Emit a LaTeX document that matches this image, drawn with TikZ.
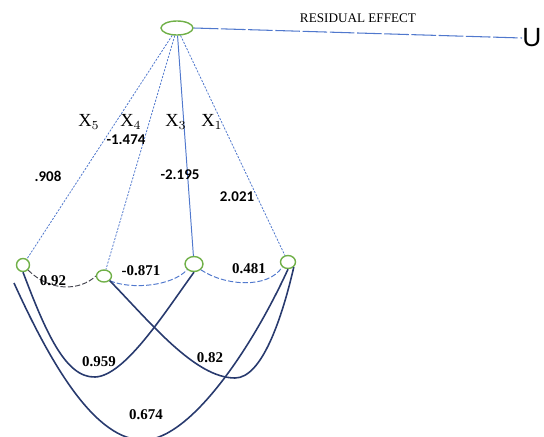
\documentclass[tikz,border=0pt]{standalone}
\usepackage{fontspec}
\setmainfont{Liberation Serif}
\newfontfamily\numfont{Carlito}
\newfontfamily\ufont{Liberation Sans}
\usetikzlibrary{shapes.geometric}
\definecolor{linkblue}{RGB}{80,120,205}
\definecolor{navy}{RGB}{40,58,110}
\definecolor{ringgreen}{RGB}{112,176,72}
\definecolor{darkdash}{RGB}{70,70,80}
\tikzset{
  ring/.style={ellipse, draw=ringgreen, line width=0.8pt, inner sep=0pt},
  spoke/.style={draw=linkblue, line width=0.45pt, dash pattern=on 1.2pt off 0.8pt},
  spokesolid/.style={draw=linkblue, line width=0.55pt},
  corr/.style={draw=linkblue, line width=0.55pt, dash pattern=on 3pt off 1.2pt},
  corrdark/.style={draw=darkdash, line width=0.55pt, dash pattern=on 3pt off 1.2pt},
  arc/.style={draw=navy, line width=0.9pt},
  xlab/.style={font=\fontsize{10.5}{12}\selectfont, inner sep=0pt},
  coef/.style={font=\numfont\bfseries\fontsize{8.5}{10}\selectfont, inner sep=0pt},
  rcoef/.style={font=\bfseries\fontsize{8.5}{10}\selectfont, inner sep=0pt}
}
\begin{document}
\begin{tikzpicture}[x=0.02cm, y=-0.02cm]
\useasboundingbox (0,0) rectangle (544,436);

% effect node and the four causes
\node[ring, minimum width=0.64cm, minimum height=0.28cm] (top) at (177,28) {};
\node[ring, minimum width=0.26cm, minimum height=0.26cm] (n5) at (23,265) {};
\node[ring, minimum width=0.30cm, minimum height=0.24cm] (n4) at (104,276) {};
\node[ring, minimum width=0.36cm, minimum height=0.30cm] (n3) at (194,264) {};
\node[ring, minimum width=0.30cm, minimum height=0.26cm] (n1) at (288,262) {};

% residual
\node[font=\ufont\fontsize{15}{16}\selectfont, inner sep=0pt, anchor=west] (u) at (522,38) {U};
\draw[draw=linkblue, line width=0.6pt, dash pattern=on 14pt off 1.5pt] (top.east) -- (u.west);
\node[font=\fontsize{7.5}{9}\selectfont, inner sep=0pt] (res) at (358,18) {RESIDUAL EFFECT};

% direct paths
\draw[spoke] (top) -- (n5);
\draw[spoke] (top) -- (n4);
\draw[spokesolid] (top) -- (n3);
\draw[spoke] (top) -- (n1);

\node[xlab] (lx5) at (89,122) {X$_5$};
\node[xlab] (lx4) at (131,122) {X$_4$};
\node[xlab] (lx3) at (176,122) {X$_3$};
\node[xlab] (lx1) at (212,122) {X$_1$};

\node[coef] (c4) at (126,140) {-1.474};
\node[coef] (c5) at (48,176) {.908};
\node[coef] (c3) at (180,175) {-2.195};
\node[coef] (c1) at (237,197) {2.021};

% correlations between neighbours
\draw[corrdark] (n5.south east) .. controls (50,292) and (80,291) .. (n4.west);
\draw[corr] (n4.south east) .. controls (132,290) and (172,286) .. (n3.south west);
\draw[corr] (n3.south east) .. controls (225,286) and (268,289) .. (n1.south west);
\node[rcoef] (r54) at (53,281) {0.92};
\node[rcoef] (r43) at (141,271) {-0.871};
\node[rcoef] (r31) at (249,269) {0.481};

% correlations between distant causes
\draw[arc] (n5.south) .. controls (45,330) and (65,378) .. (95,377)
  .. controls (125,376) and (165,312) .. (n3.south);
\draw[arc] (n4.south east) .. controls (150,322) and (195,378) .. (235,378)
  .. controls (262,378) and (282,318) .. (n1.south east);
\coordinate (s674) at (14,283);
\draw[arc] (s674) .. controls (50,362) and (95,442) .. (145,440)
  .. controls (190,438) and (250,352) .. (n1.south);
\node[rcoef] (r53) at (99,362) {0.959};
\node[rcoef] (r41) at (210,358) {0.82};
\node[rcoef] (r51) at (146,415) {0.674};
\end{tikzpicture}
\end{document}
